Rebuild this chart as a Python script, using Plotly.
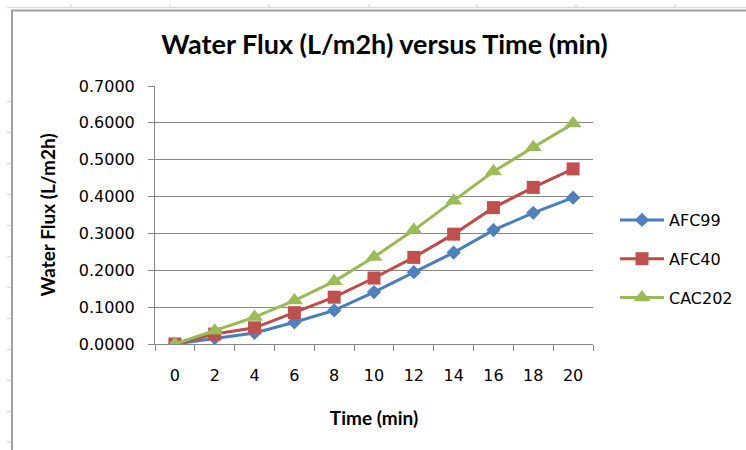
import plotly.graph_objects as go

# Sampling times (min) and measured water flux (L/m2h) per membrane
time_min = ["0", "2", "4", "6", "8", "10", "12", "14", "16", "18", "20"]
afc99 = [0.0, 0.016, 0.030, 0.059, 0.091, 0.141, 0.195, 0.248, 0.309, 0.356, 0.397]
afc40 = [0.0, 0.027, 0.044, 0.085, 0.127, 0.179, 0.235, 0.298, 0.370, 0.425, 0.475]
cac202 = [0.0, 0.036, 0.073, 0.118, 0.170, 0.236, 0.309, 0.389, 0.468, 0.534, 0.598]
y_ticks = [0.0, 0.1, 0.2, 0.3, 0.4, 0.5, 0.6, 0.7]
y_tick_text = ["0.0000", "0.1000", "0.2000", "0.3000", "0.4000", "0.5000", "0.6000", "0.7000"]

W, H = 746, 450
ML, MR, MT, MB = 155, 153, 86, 106
PW, PH = W - ML - MR, H - MT - MB

TITLE_FONT = "Lato"
LABEL_FONT = "DejaVu Sans"
GRID = "#878787"


def px_x(x):
    return (x - ML) / PW


def px_y(y):
    return (H - MB - y) / PH


series = [
    ("AFC99", afc99, "#4A7EBB", "#4F81BD", "diamond", 11),
    ("AFC40", afc40, "#BE4B48", "#C0504D", "square", 13),
    ("CAC202", cac202, "#98B954", "#9BBB59", "triangle-up", 15),
]

fig = go.Figure()
for name, vals, lc, mc, sym, size in series:
    fig.add_trace(go.Scatter(
        x=time_min, y=vals, name=name, mode="lines+markers",
        legendgroup=name,
        line=dict(color=lc, width=3),
        marker=dict(symbol=sym, size=size, color=mc, line=dict(width=0)),
    ))

# worksheet frame around the chart object
shapes = [
    dict(type="line", xref="paper", yref="paper", x0=px_x(7), x1=px_x(746),
         y0=px_y(7.5), y1=px_y(7.5), line=dict(color="#D5DCE6", width=1.5)),
    dict(type="line", xref="paper", yref="paper", x0=px_x(11), x1=px_x(746),
         y0=px_y(10.5), y1=px_y(10.5), line=dict(color="#A0A0A0", width=2)),
    dict(type="line", xref="paper", yref="paper", x0=px_x(12), x1=px_x(12),
         y0=px_y(10), y1=px_y(450), line=dict(color="#A0A0A0", width=2)),
]
for cx in [71, 170, 269, 369, 477, 576, 675]:
    shapes.append(dict(type="line", xref="paper", yref="paper", x0=px_x(cx), x1=px_x(cx),
                       y0=px_y(4.5), y1=px_y(7.5), line=dict(color="#D5DCE6", width=1.5)))
for ry in [101.5, 132.5, 163.5, 194.5, 225.5, 256.5, 287.5, 318.5, 349.5, 380.5, 411.5, 442]:
    shapes.append(dict(type="line", xref="paper", yref="paper", x0=px_x(7), x1=px_x(11),
                       y0=px_y(ry), y1=px_y(ry), line=dict(color="#D5DCE6", width=1.5)))

fig.update_layout(
    width=W, height=H,
    margin=dict(l=ML, r=MR, t=MT, b=MB, pad=0),
    paper_bgcolor="white", plot_bgcolor="white",
    font=dict(family=LABEL_FONT, color="#000000", size=16),
    title=dict(text="<b>Water Flux (L/m2h) versus Time (min)</b>",
               font=dict(family=TITLE_FONT, size=27, color="#000000"),
               xref="container", yref="container", x=384.5 / W, y=1 - 45 / H,
               xanchor="center", yanchor="middle"),
    xaxis=dict(type="category", range=[-0.5, 10.5], tickson="boundaries",
               ticks="outside", ticklen=6, tickcolor=GRID, tickwidth=1,
               showline=True, linecolor=GRID, linewidth=1, showgrid=False,
               ticklabelstandoff=17, tickfont=dict(family=LABEL_FONT, size=16),
               title=dict(text="<b>Time (min)</b>",
                          font=dict(family=TITLE_FONT, size=19), standoff=27)),
    yaxis=dict(range=[0, 0.7], tickvals=y_ticks, ticktext=y_tick_text,
               ticks="outside", ticklen=6, tickcolor=GRID, tickwidth=1,
               showline=True, linecolor=GRID, linewidth=1,
               showgrid=True, gridcolor=GRID, gridwidth=1, zeroline=False,
               ticklabelstandoff=10, tickfont=dict(family=LABEL_FONT, size=16),
               title=dict(text="<b>Water Flux (L/m2h)</b>",
                          font=dict(family=TITLE_FONT, size=19), standoff=18)),
    showlegend=True,
    legend=dict(xref="container", yref="container", x=615 / W, y=1 - 259 / H,
                xanchor="left", yanchor="middle", tracegroupgap=15,
                itemwidth=44, font=dict(family=LABEL_FONT, size=16),
                bgcolor="rgba(0,0,0,0)"),
    shapes=shapes,
)

fig.write_html("out.html")
